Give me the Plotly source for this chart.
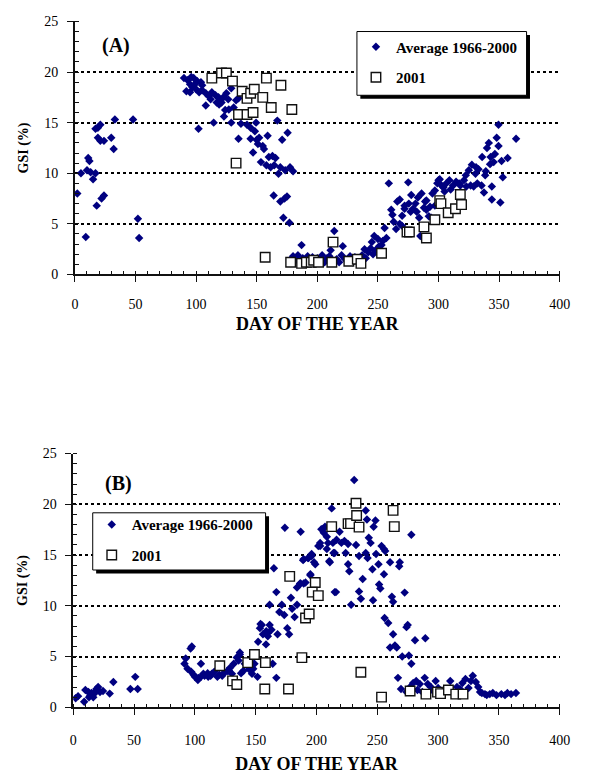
import plotly.graph_objects as go

# ---------------- Panel A : GSI by day of year ----------------
a_avg_day = [2, 5, 9, 10, 11, 12, 13, 15, 17, 18, 17, 19, 21, 19, 21, 24, 22, 24, 30, 32, 33, 48, 52, 53,
             90, 93, 96, 98, 95, 99, 101, 104, 105, 92, 95, 102.5, 105, 108, 110.5, 113, 116, 118.5, 120,
             122.5, 125, 121, 126.5, 129, 133, 135, 108, 124, 127, 123, 102, 114.5, 129, 137, 142, 145,
             148.5, 149.5, 167, 135, 145, 150, 152, 159, 151, 155, 156, 171, 175.5, 147, 153.5, 160, 163,
             165.5, 158, 161.5, 164.5, 169.5, 168, 173.5, 177.5, 180, 164, 169.5, 173, 175, 172, 177,
             97, 100, 112, 117, 119, 131,
             180, 182, 184, 185, 187, 188, 190, 192, 194, 196, 198, 200, 202, 204, 206, 208, 210, 211, 214,
             216, 218, 220, 221, 223, 225, 227, 229, 231, 233, 235, 237, 239, 240, 242, 244, 245, 246, 247,
             248, 250, 251, 253, 254, 255.5, 257,
             259, 261, 262, 265, 266, 268, 263, 270, 272, 275, 277.5, 277, 275.5, 281, 282, 284, 285, 288,
             290, 293, 294, 289, 290, 292, 297, 299, 301, 300, 302.5, 305, 306.5, 309, 312, 314.5, 317, 321,
             322.5, 325, 327.5, 326.5, 329, 332, 330.5, 333, 335.5, 337.5, 336, 338.5, 340, 341.5, 342.5, 344,
             345.5, 344, 346.5, 348, 349.5, 349.5, 351, 352, 353, 357, 364,
             268, 270, 272, 279, 283, 286, 295, 297, 304, 310, 318, 323, 331, 339, 343]
a_avg_gsi = [8.0, 10.0, 3.7, 10.3, 11.5, 11.2, 10.1, 9.4, 10.0, 6.8, 14.4, 14.5, 14.8, 13.5, 13.2, 13.2, 7.5,
             7.8, 13.5, 12.4, 15.3, 15.3, 5.5, 3.6,
             19.4, 19.2, 19.5, 19.4, 18.8, 18.8, 19.1, 19.0, 18.7, 18.1, 18.0, 18.0, 18.2, 17.9, 17.6, 18.0,
             17.7, 17.5, 17.2, 17.5, 17.9, 17.0, 17.3, 18.4, 17.2, 17.4, 16.7, 16.25, 16.3, 15.6, 14.4, 15.0,
             15.0, 14.9, 14.8, 14.5, 14.15, 15.0, 15.2, 13.4, 13.4, 13.3, 13.5, 13.7, 12.9, 12.7, 12.4, 13.3,
             14.0, 12.05, 11.1, 11.6, 11.7, 11.5, 10.8, 10.6, 10.8, 10.6, 9.95, 10.3, 10.6, 10.2, 7.8, 7.2,
             7.5, 7.7, 5.6, 5.1,
             18.5, 18.3, 17.3, 17.0, 16.8, 16.5,
             1.8, 1.4, 1.9, 1.3, 2.9, 1.6, 1.2, 1.8, 1.4, 1.7, 1.1, 1.6, 1.4, 1.9, 1.2, 1.6, 1.8, 2.4, 4.3,
             1.5, 1.2, 1.9, 2.8, 1.5, 1.3, 1.8, 1.2, 1.7, 1.4, 1.1, 1.9, 2.5, 1.6, 2.2, 2.6, 3.2, 2.0, 3.8,
             2.4, 3.5, 2.8, 2.9, 3.3, 4.6, 3.6,
             9.0, 6.4, 5.9, 4.5, 7.2, 7.4, 5.2, 5.8, 6.5, 9.1, 7.85, 6.2, 7.0, 7.0, 6.2, 5.6, 3.8, 6.6,
             7.3, 6.7, 5.6, 7.2, 6.4, 5.75, 8.3, 9.0, 9.4, 9.3, 8.8, 8.2, 9.0, 9.3, 8.8, 9.15, 9.0, 9.3,
             9.8, 10.3, 10.85, 8.8, 8.7, 9.0, 9.95, 10.4, 8.8, 8.1, 11.6, 9.8, 12.5, 13.0, 10.9, 7.4,
             11.1, 8.7, 11.9, 13.5, 12.7, 14.8, 7.1, 11.2, 9.6, 11.5, 13.4,
             5.0, 4.8, 6.8, 6.5, 7.6, 8.0, 8.0, 6.8, 8.6, 8.4, 8.8, 8.7, 10.6, 10.2, 11.6]

a_2001_day = [113, 121, 125, 130, 158, 138, 142, 145, 148, 155, 170, 162, 179, 135, 142, 147, 133, 157,
              178, 187, 191, 195, 197, 201, 212, 213, 226, 233, 236, 253, 274, 276, 288, 290, 297, 301,
              302, 308, 314, 318, 319]
a_2001_gsi = [19.4, 19.9, 19.9, 19.1, 19.4, 18.1, 17.4, 17.9, 18.3, 17.5, 18.7, 16.5, 16.3, 15.8, 15.8,
              16.0, 11.0, 1.7, 1.2, 1.1, 1.2, 1.2, 1.4, 1.2, 1.2, 3.2, 1.3, 1.5, 1.1, 2.1, 4.2, 4.2, 4.7,
              3.6, 5.4, 7.3, 7.0, 6.1, 6.5, 7.9, 6.9]

# ---------------- Panel B : GSI by day of year ----------------
b_avg_day = [2, 4, 9, 10, 12.5, 14, 16.5, 18, 19, 20.5, 22, 24.5, 30, 33, 47, 51, 53, 15, 17, 13,
             92.5, 96.5, 97.5, 91.5, 94, 97, 100, 102.5, 105, 105, 108, 110.5, 113, 116, 118.5, 122.5,
             126.5, 129, 132, 134.5, 137, 130.5, 138, 141, 145, 147, 149, 151.5, 152, 153.5, 155, 156,
             158.5, 160, 163, 161.5, 164, 165, 167, 167, 168, 169.5, 171.5, 173.5, 174, 176, 177.5, 179,
             180, 182, 184, 184, 186.5, 187, 189, 191, 193, 195, 196, 198, 201.5, 203, 204, 206, 207,
             208.5, 210.5, 212.5, 214, 215,
             99, 103, 107, 111, 114, 120, 124, 128, 136, 140, 143, 146, 148, 137, 154, 158.7, 160, 161.5,
             189.5, 193.5, 196, 199, 195, 187, 189.5, 203, 205.5, 208.5, 209.5, 213.5, 216.5, 219, 220.5,
             223, 226, 216, 211, 215, 224, 226, 227, 228.5, 231, 232.5, 235, 238, 236.5, 235, 240.5,
             241.5, 243, 244.5, 240.5, 242, 246, 246.5, 247, 248.5, 249, 251, 251.5, 252.5, 253.5, 255.5,
             255.5, 256.5, 259, 256, 260.5, 262, 263, 263, 260.5, 264.5, 266, 268.5, 268, 272.5, 274,
             275, 276, 278, 278, 281, 270.5, 289.5, 267, 269.5, 279.5, 282, 285, 289, 291.5, 294, 298,
             310, 315.5, 322.5, 328.5, 331, 334.5, 338.5, 342.5, 345, 348, 352, 357, 364,
             274, 277, 283, 287, 296, 300, 303, 306, 312, 318, 320, 325, 327, 333, 336, 340, 355, 360]
b_avg_gsi = [0.9, 1.1, 0.55, 1.7, 1.5, 1.2, 1.0, 1.5, 1.8, 2.0, 1.5, 1.6, 1.35, 2.5, 1.8, 3.0, 1.8, 1.4,
             1.3, 1.0,
             4.8, 5.8, 6.0, 4.3, 3.8, 3.5, 3.0, 2.7, 4.3, 3.0, 3.1, 3.35, 3.1, 3.5, 3.0, 3.1, 3.55, 3.9,
             4.3, 4.9, 5.2, 3.3, 3.35, 4.3, 3.7, 3.3, 4.3, 3.0, 6.45, 7.8, 8.1, 7.2, 6.2, 7.3, 7.65, 10.1,
             4.3, 13.7, 11.35, 2.9, 7.2, 9.4, 10.1, 9.1, 17.7, 7.8, 7.2, 10.8, 9.7, 8.9, 10.1, 11.8,
             12.2, 17.3, 14.5, 12.3, 14.7, 13.0, 15.1, 14.3, 15.9, 16.2, 17.55, 17.2, 17.8, 15.6, 14.4,
             19.6, 15.2, 11.35,
             3.2, 2.9, 3.3, 3.0, 3.3, 3.2, 3.4, 3.6, 4.6, 3.6, 4.1, 4.5, 3.8, 5.4, 8.2, 7.5, 7.0, 8.1,
             14.6, 14.7, 14.9, 14.1, 13.1, 12.2, 12.2, 15.9, 17.6, 16.8, 16.2, 16.2, 16.5, 17.3, 16.2,
             16.4, 16.1, 11.35, 14.3, 15.2, 15.2, 14.1, 13.4, 10.1, 22.4, 16.0, 14.9, 12.65, 10.7, 11.4,
             19.4, 18.5, 16.7, 16.2, 15.2, 14.7, 13.6, 10.55, 17.8, 18.4, 15.1, 14.1, 12.1, 11.7, 15.9,
             15.6, 13.1, 15.4, 8.3, 8.8, 14.3, 10.9, 10.4, 7.2, 5.9, 6.1, 5.9, 14.3, 13.9, 11.3, 7.9,
             8.1, 5.1, 4.3, 17.0, 6.6, 5.0, 6.8, 2.9, 1.8, 2.4, 2.6, 2.3, 2.9, 2.3, 2.0, 2.6,
             2.6, 2.0, 2.8, 3.1, 2.5, 1.5, 1.3, 1.3, 1.4, 1.2, 1.3, 1.4, 1.4,
             1.5, 2.0, 1.7, 1.5, 1.6, 1.9, 1.4, 1.7, 1.5, 1.8, 2.4, 1.9, 2.6, 2.0, 1.4, 1.2, 1.2, 1.3]

b_2001_day = [120.5, 131, 134.5, 143.5, 149, 158, 157.5, 177, 188, 178, 191, 194, 199, 196.5, 201.5,
              212.5, 226, 228, 235, 233, 232.5, 263, 264, 236.5, 253.5, 277, 290, 299.5, 302, 308.5,
              314.5, 320.5]
b_2001_gsi = [4.1, 2.6, 2.25, 4.4, 5.2, 4.4, 1.8, 1.8, 4.9, 12.9, 8.8, 9.2, 12.3, 11.35, 11.0, 17.8,
              18.1, 18.1, 17.75, 18.9, 20.1, 19.4, 17.8, 3.45, 1.0, 1.6, 1.3, 1.5, 1.35, 1.7, 1.3, 1.3]

SERIES_NAMES = ["Average 1966-2000", "2001"]
X_TICKS = [0, 50, 100, 150, 200, 250, 300, 350, 400]
Y_TICKS = [0, 5, 10, 15, 20, 25]

W, H = 599, 782
NAVY = "#000080"
SERIF = "Liberation Serif, Times New Roman, serif"
INK = "#111111"


def px_x(p):
    return p / W


def px_y(p):
    return 1 - p / H


fig = go.Figure()

avg_marker = dict(symbol="diamond", size=6.5, color=NAVY, line=dict(width=0))
sq_marker = dict(symbol="square", size=9.5, color="white", line=dict(color="#111111", width=1.4))

for (d_avg, g_avg, d_01, g_01, xa, ya, lg) in [
    (a_avg_day, a_avg_gsi, a_2001_day, a_2001_gsi, "x", "y", "legend"),
    (b_avg_day, b_avg_gsi, b_2001_day, b_2001_gsi, "x2", "y2", "legend2"),
]:
    fig.add_trace(go.Scatter(x=d_avg, y=g_avg, mode="markers",
                             name="<b>" + SERIES_NAMES[0] + "</b>",
                             marker=avg_marker, xaxis=xa, yaxis=ya, legend=lg,
                             legendgroup=lg + "a"))
    fig.add_trace(go.Scatter(x=d_01, y=g_01, mode="markers",
                             name="<b>" + SERIES_NAMES[1] + "</b>",
                             marker=sq_marker, xaxis=xa, yaxis=ya, legend=lg,
                             legendgroup=lg + "b"))


def xaxis_style(domain, anchor, label_gap, title_gap):
    return dict(
        domain=domain, anchor=anchor, range=[0, 400], tickvals=X_TICKS,
        showline=True, linecolor=INK, linewidth=1.5, mirror=False,
        ticks="outside", ticklen=6, tickwidth=1, tickcolor=INK,
        showgrid=False, zeroline=False,
        minor=dict(dtick=10, tick0=0, ticks="inside", ticklen=4, tickwidth=1, tickcolor=INK,
                   showgrid=False),
        tickfont=dict(family=SERIF, size=14, color="black"),
        ticklabelstandoff=label_gap,
        title=dict(text="<b>DAY OF THE YEAR</b>", font=dict(family=SERIF, size=18, color="black"),
                   standoff=title_gap),
        fixedrange=True,
    )


def yaxis_style(domain, anchor):
    return dict(
        domain=domain, anchor=anchor, range=[0, 25], tickvals=Y_TICKS,
        showline=True, linecolor=INK, linewidth=1.5,
        ticks="outside", ticklen=6, tickwidth=1, tickcolor=INK,
        showgrid=True, gridcolor="black", gridwidth=2, griddash="dot",
        zeroline=False,
        minor=dict(dtick=1, tick0=0, ticks="inside", ticklen=4, tickwidth=1, tickcolor=INK,
                   showgrid=False),
        tickfont=dict(family=SERIF, size=14, color="black"),
        ticklabelstandoff=6,
        title=dict(text="<b>GSI (%)</b>", font=dict(family=SERIF, size=14, color="black"),
                   standoff=12),
        fixedrange=True,
    )


legend_common = dict(
    bgcolor="rgba(0,0,0,0)", borderwidth=0,
    font=dict(family=SERIF, size=15, color="black"),
    xanchor="left", yanchor="top", tracegroupgap=8,
    itemsizing="trace",
)

fig.update_layout(
    width=W, height=H,
    margin=dict(l=0, r=0, t=0, b=0),
    paper_bgcolor="white", plot_bgcolor="white",
    showlegend=True,
    xaxis=xaxis_style([px_x(72.7), px_x(570)], "y", 10, 6),
    yaxis=yaxis_style([px_y(272.7), px_y(14.7)], "x"),
    xaxis2=xaxis_style([px_x(71), px_x(570)], "y2", 13, 11),
    yaxis2=yaxis_style([px_y(714), px_y(455.3)], "x2"),
    legend=dict(x=px_x(361), y=px_y(24), **legend_common),
    legend2=dict(x=px_x(90), y=px_y(511), **legend_common),
)

# legend frames with a drop shadow
for (x0, y0, x1, y1) in [(362, 25, 536, 90), (91, 515.7, 268.3, 574)]:
    fig.add_shape(type="rect", xref="paper", yref="paper", layer="above",
                  x0=px_x(x0 + 3.5), x1=px_x(x1 + 3.5), y0=px_y(y1 + 3.5), y1=px_y(y0 + 3.5),
                  fillcolor="black", line=dict(width=0))
    fig.add_shape(type="rect", xref="paper", yref="paper", layer="above",
                  x0=px_x(x0), x1=px_x(x1), y0=px_y(y1), y1=px_y(y0),
                  fillcolor="white", line=dict(color="black", width=1))

# panel letters
for label, (cx, cy) in [("(A)", (114.5, 39.5)), ("(B)", (117.5, 485.5))]:
    fig.add_annotation(text="<b>" + label + "</b>", xref="paper", yref="paper",
                       x=px_x(cx), y=px_y(cy), xanchor="center", yanchor="middle",
                       showarrow=False, font=dict(family=SERIF, size=20, color="black"))

fig.write_html(
    "out.html",
    config={"responsive": False, "displayModeBar": False},
    post_script="document.body.style.margin='0';document.body.style.overflow='hidden';",
)
